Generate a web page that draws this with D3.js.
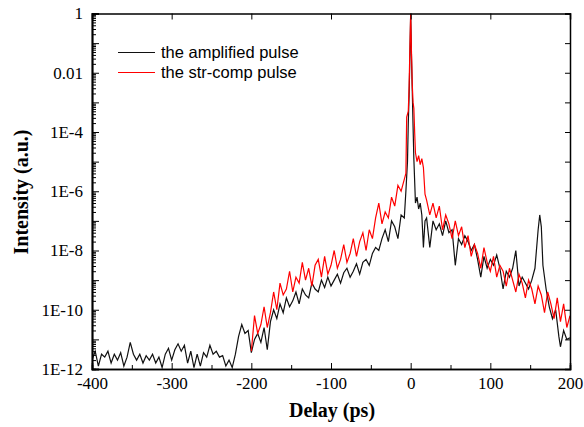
<!DOCTYPE html>
<html>
<head>
<meta charset="utf-8">
<script src="https://cdn.jsdelivr.net/npm/d3@7"></script>
<style>
  body { margin: 0; background: #fff; }
</style>
</head>
<body>
<div id="chart"></div>
<script>
"use strict";
var w = 584;
var h = 427;
var margin = {top: 13.5, right: 14, bottom: 58, left: 92};
var serif = "'Liberation Serif', 'Times New Roman', serif";

// black: the amplified pulse (delay in ps, log10 of intensity)
var delayAmp = [-400,-396,-392,-388,-384,-380,-376,-372,-368,-364,-360,-356,-352,-348,-344,-340,-336,-332,-328,-324,
  -320,-316,-312,-308,-304,-300,-296,-292,-288,-284,-280,-276,-272,-268,-264,-260,-256,-252,-248,-244,
  -240,-236,-232,-228,-224,-220,-216,-212,-208,-204,-200,-196,-192,-188,-184,-180,-176,-172,-168,-164,
  -160,-156,-152,-148,-144,-140,-136,-132,-128,-124,-120,-116,-112,-108,-104,-100,-96,-92,-88,-84,
  -80,-76,-72,-68,-64,-60,-56,-52,-48,-44,-40,-36,-32,-28,-24,-20,-16,-12,-8,-6,
  -4,-3,-2,-1,0,1,2,3,4,6,8,10,12,14,16,18,20,24,28,32,
  36,40,44,48,52,56,60,64,68,72,76,80,84,88,92,96,100,104,108,112,
  116,120,124,128,132,136,140,144,148,152,156,160,162,164,166,170,174,178,182,186,
  188,192,196,200];
var logAmp = [-11.7,-11.4,-11.9,-11.5,-11.6,-11.4,-11.8,-11.5,-11.7,-11.45,-11.9,-11.6,-11.1,-11.5,-11.7,-11.5,-11.8,-11.55,-11.7,-11.5,
  -11.8,-11.6,-11.95,-11.5,-11.3,-11.7,-11.35,-11.15,-11.4,-11.2,-11.8,-11.4,-11.95,-11.5,-11.9,-11.45,-11.6,-11.2,-11.5,-11.4,
  -11.6,-11.55,-11.9,-11.7,-11.95,-11.5,-10.9,-10.5,-10.8,-10.7,-11.45,-11.0,-10.8,-11.1,-10.6,-11.35,-10.4,-10.0,-10.3,-9.8,
  -10.1,-9.6,-9.9,-9.7,-9.4,-9.8,-9.3,-9.5,-9.6,-9.1,-9.3,-9.4,-9.0,-9.25,-8.9,-9.2,-9.0,-8.8,-9.1,-8.75,
  -8.6,-8.9,-8.7,-8.45,-8.8,-8.4,-8.3,-8.5,-8.1,-7.9,-8.0,-7.6,-7.3,-7.7,-7.0,-7.2,-7.6,-6.8,-6.9,-6.0,
  -5.0,-3.7,-2.8,-1.5,0,-1.4,-2.6,-3.8,-4.9,-6.4,-6.2,-6.6,-6.4,-6.8,-7.9,-7.0,-6.9,-7.9,-7.0,-7.3,
  -7.1,-7.5,-7.0,-7.4,-7.3,-8.5,-7.6,-7.8,-7.5,-7.7,-8.0,-7.8,-8.3,-8.9,-8.2,-8.6,-8.3,-8.5,-8.15,-8.6,
  -9.3,-8.7,-8.9,-8.6,-8.0,-9.2,-8.9,-9.1,-9.3,-9.0,-8.6,-7.3,-6.8,-7.2,-8.5,-9.3,-9.9,-10.3,-10.0,-10.9,
  -11.25,-10.7,-11.0,-10.95];

// red: the str-comp pulse
var delayComp = [-200,-196,-192,-188,-184,-180,-176,-172,-168,-164,-160,-156,-152,-148,-144,-140,-136,-132,-128,-124,
  -120,-116,-112,-108,-104,-100,-96,-92,-88,-84,-80,-76,-72,-68,-64,-60,-56,-52,-48,-44,
  -40,-36,-32,-28,-24,-20,-16,-12,-8,-6,-5,-4,-3,-2,-1,0,1,2,3,4,
  5,6,8,10,12,14,16,18,20,24,28,32,36,40,44,48,52,56,60,64,
  68,72,76,80,84,88,92,96,100,104,108,112,116,120,124,128,132,136,140,144,
  148,152,156,160,164,168,172,176,180,184,188,192,196,200];
var logComp = [-11.4,-10.2,-10.8,-10.5,-9.9,-10.6,-10.1,-9.4,-10.0,-9.1,-9.5,-9.3,-8.7,-9.4,-8.9,-9.1,-8.4,-9.0,-8.6,-9.2,
  -8.5,-8.3,-8.9,-8.2,-8.8,-8.5,-8.0,-8.6,-8.3,-7.8,-8.4,-8.1,-7.6,-8.2,-7.7,-7.4,-8.0,-7.3,-7.6,-6.9,
  -6.4,-7.1,-6.7,-6.9,-6.2,-6.5,-5.8,-6.0,-5.6,-5.4,-3.5,-3.4,-3.3,-2.5,-1.2,0,-1.3,-2.4,-3.0,-3.2,
  -4.0,-4.7,-5.0,-4.8,-5.1,-4.9,-5.2,-6.1,-6.3,-6.8,-6.4,-6.9,-6.5,-7.3,-6.8,-7.1,-7.6,-7.0,-7.5,-7.2,
  -7.9,-7.5,-8.2,-7.8,-8.1,-8.6,-7.9,-8.4,-8.7,-8.2,-8.9,-8.5,-8.7,-9.2,-8.6,-9.0,-9.4,-8.8,-9.1,-9.6,
  -9.0,-9.3,-9.8,-9.2,-9.5,-10.1,-9.4,-9.8,-10.3,-9.6,-10.4,-9.8,-10.6,-10.2];

var xTicks = [-400,-300,-200,-100,0,100,200];
var xMinor = [-350,-250,-150,-50,50,150];
var yLabelTicks = [1,1e-2,1e-4,1e-6,1e-8,1e-10,1e-12];
var yLabels = ["1","0.01","1E-4","1E-6","1E-8","1E-10","1E-12"];
var yOddTicks = [1e-1,1e-3,1e-5,1e-7,1e-9,1e-11];

window.onload = function() {
    var svg = d3.select("#chart").append("svg")
        .attr("width", w).attr("height", h);

    var iw = w - margin.left - margin.right;
    var ih = h - margin.top - margin.bottom;

    var x = d3.scaleLinear().domain([-400, 200]).range([0, iw]);
    var y = d3.scaleLog().domain([1e-12, 1]).range([ih, 0]);

    var g = svg.append("g").attr("transform", "translate(" + margin.left + "," + margin.top + ")");

    g.append("clipPath").attr("id", "clip")
        .append("rect").attr("width", iw).attr("height", ih);

    var ampData = delayAmp.map(function(d, i){ return [d, Math.pow(10, logAmp[i])]; });
    var compData = delayComp.map(function(d, i){ return [d, Math.pow(10, logComp[i])]; });

    var line = d3.line()
        .x(function(d){ return x(d[0]); })
        .y(function(d){ return y(d[1]); });

    var plot = g.append("g").attr("clip-path", "url(#clip)");
    plot.append("path").datum(ampData)
        .attr("d", line).attr("fill", "none")
        .attr("stroke", "#111").attr("stroke-width", 1.2);
    plot.append("path").datum(compData)
        .attr("d", line).attr("fill", "none")
        .attr("stroke", "#f00").attr("stroke-width", 1.2);

    // minor log ticks 2..9 each decade
    var yMinor = [];
    for (var e = -12; e < 0; e++) {
        for (var m = 2; m <= 9; m++) yMinor.push(m * Math.pow(10, e));
    }

    // left axis
    g.append("g").call(d3.axisLeft(y).tickValues(yMinor).tickSize(-4).tickFormat(""));
    g.append("g").call(d3.axisLeft(y).tickValues(yOddTicks).tickSize(-7).tickFormat(""));
    g.append("g").call(d3.axisLeft(y).tickValues(yLabelTicks).tickSize(-7).tickPadding(9)
        .tickFormat(function(d, i){ return yLabels[i]; }));

    // right axis
    g.append("g").attr("transform", "translate(" + iw + ",0)")
        .call(d3.axisRight(y).tickValues(yLabelTicks.concat(yOddTicks)).tickSize(-5).tickFormat(""));

    // bottom axis
    g.append("g").attr("transform", "translate(0," + ih + ")")
        .call(d3.axisBottom(x).tickValues(xMinor).tickSize(-4).tickFormat(""));
    g.append("g").attr("transform", "translate(0," + ih + ")")
        .call(d3.axisBottom(x).tickValues(xTicks).tickSize(-6).tickPadding(8).tickFormat(d3.format("d")));

    // top axis
    g.append("g").call(d3.axisTop(x).tickValues(xTicks).tickSize(-6).tickFormat(""));

    g.selectAll(".domain").attr("stroke", "#000").attr("stroke-width", 1.5);
    g.selectAll(".tick line").attr("stroke", "#000").attr("stroke-width", 1);
    g.selectAll(".tick text")
        .style("font-family", serif).style("font-size", "17px").attr("fill", "#000")
        .text(function(){ return this.textContent.replace("\u2212", "-"); });

    // axis titles
    svg.append("text")
        .attr("x", 332).attr("y", 417)
        .attr("text-anchor", "middle")
        .style("font-family", serif)
        .style("font-weight", "bold").style("font-size", "20px")
        .text("Delay (ps)");
    svg.append("text")
        .attr("transform", "translate(28,192) rotate(-90)")
        .attr("text-anchor", "middle")
        .style("font-family", serif)
        .style("font-weight", "bold").style("font-size", "20px")
        .text("Intensity (a.u.)");

    // legend
    var legend = [["the amplified pulse", "#111"], ["the str-comp pulse", "#f00"]];
    var lg = svg.append("g");
    legend.forEach(function(d, i){
        var ly = 52.5 + i * 20;
        lg.append("line").attr("x1", 118).attr("x2", 155).attr("y1", ly).attr("y2", ly)
            .attr("stroke", d[1]).attr("stroke-width", 1.2);
        lg.append("text").attr("x", 161).attr("y", ly + 5.5)
            .style("font-family", "'Liberation Sans', Arial, sans-serif")
            .style("font-size", "16.5px")
            .text(d[0]);
    });
};
</script>
</body>
</html>
